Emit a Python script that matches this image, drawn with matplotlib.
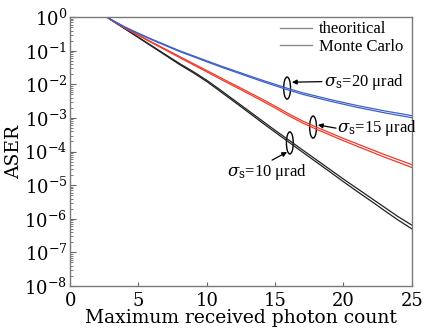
import matplotlib
matplotlib.use("Agg")
import matplotlib.pyplot as plt
from matplotlib.lines import Line2D
from matplotlib.patches import Ellipse
from matplotlib.ticker import LogLocator, NullFormatter

plt.rcParams["font.family"] = ["DejaVu Serif"]
plt.rcParams["mathtext.fontset"] = "dejavuserif"
SMALL = ["Liberation Serif", "DejaVu Serif"]

# photon count (x) and ASER
photons = [2.7, 3, 4, 5, 6, 7, 8, 9, 10, 11, 12, 13, 14, 15, 16, 17, 18, 19, 20, 21, 22, 23, 24, 25]

aser_10_theory = [1.0, 0.83, 0.457, 0.251, 0.138, 0.0759, 0.0417, 0.0240, 0.0132, 6.76e-3, 3.39e-3,
                  1.70e-3, 8.51e-4, 4.27e-4, 2.19e-4, 1.12e-4, 5.75e-5, 2.95e-5, 1.51e-5, 7.94e-6,
                  4.17e-6, 2.19e-6, 1.15e-6, 6.46e-7]
aser_10_mc = [1.0, 0.82, 0.45, 0.245, 0.133, 0.072, 0.039, 0.0222, 0.0121, 6.1e-3, 3.05e-3,
              1.52e-3, 7.5e-4, 3.75e-4, 1.9e-4, 9.6e-5, 4.9e-5, 2.5e-5, 1.26e-5, 6.5e-6,
              3.4e-6, 1.75e-6, 9.1e-7, 5.0e-7]

aser_15_theory = [1.0, 0.832, 0.479, 0.295, 0.178, 0.110, 0.0676, 0.0417, 0.0257, 0.0158, 9.77e-3,
                  6.03e-3, 3.72e-3, 2.24e-3, 1.32e-3, 8.13e-4, 5.37e-4, 3.63e-4, 2.45e-4, 1.70e-4,
                  1.17e-4, 8.13e-5, 5.75e-5, 4.07e-5]
aser_15_mc = [1.0, 0.82, 0.47, 0.285, 0.171, 0.104, 0.063, 0.0385, 0.0235, 0.0143, 8.8e-3,
              5.4e-3, 3.3e-3, 1.98e-3, 1.16e-3, 7.1e-4, 4.65e-4, 3.12e-4, 2.1e-4, 1.44e-4,
              9.9e-5, 6.8e-5, 4.8e-5, 3.35e-5]

aser_20_theory = [1.0, 0.851, 0.513, 0.331, 0.219, 0.148, 0.100, 0.0708, 0.0501, 0.0355, 0.0257,
                  0.0186, 0.0135, 0.0100, 7.41e-3, 5.62e-3, 4.47e-3, 3.55e-3, 2.88e-3, 2.34e-3,
                  1.95e-3, 1.62e-3, 1.38e-3, 1.17e-3]
aser_20_mc = [1.0, 0.84, 0.50, 0.32, 0.21, 0.141, 0.095, 0.067, 0.047, 0.0332, 0.0239,
              0.0172, 0.0124, 9.1e-3, 6.7e-3, 5.05e-3, 4.0e-3, 3.17e-3, 2.56e-3, 2.07e-3,
              1.72e-3, 1.42e-3, 1.2e-3, 1.02e-3]

legend_labels = ["theoritical", "Monte Carlo"]

fig = plt.figure(figsize=(4.25, 3.36), dpi=100)
ax = fig.add_axes([0.165, 0.149, 0.804, 0.800])

blue = "#3d5fc8"
red = "#f03a2a"
for y, c in [(aser_10_theory, "#222222"), (aser_10_mc, "#222222"),
             (aser_15_theory, red), (aser_15_mc, red),
             (aser_20_theory, blue), (aser_20_mc, blue)]:
    ax.plot(photons, y, color=c, lw=0.9)

ax.set_yscale("log")
ax.set_xlim(0, 25)
ax.set_ylim(1e-8, 1)
ax.set_xticks([0, 5, 10, 15, 20, 25])
ax.yaxis.set_major_locator(LogLocator(base=10, numticks=20))
ax.yaxis.set_minor_locator(LogLocator(base=10, subs=range(2, 10), numticks=20))
ax.yaxis.set_minor_formatter(NullFormatter())
ax.tick_params(axis="both", which="both", direction="in", colors="#666666", labelcolor="black",
               labelsize=13, top=False, right=False)
ax.tick_params(axis="y", which="major", length=4, pad=2)
ax.tick_params(axis="y", which="minor", length=2)
ax.tick_params(axis="x", length=3, pad=4.5)
for s in ax.spines.values():
    s.set_color("#7a7a7a")
    s.set_linewidth(1.0)

ax.set_xlabel("Maximum received photon count", fontsize=13.5, labelpad=-1)
ax.set_ylabel("ASER", fontsize=13.5, labelpad=1)

handles = [Line2D([], [], color="#8a8a8a", lw=1.0) for _ in legend_labels]
ax.legend(handles, legend_labels, loc="upper right", frameon=False,
          prop={"family": SMALL, "size": 12},
          handlelength=1.9, handletextpad=0.45, labelspacing=0.1,
          borderaxespad=0.1, bbox_to_anchor=(1.0, 1.015))

# ellipses marking each pair of curves (axes coordinates)
for cx, cy in [(0.635, 0.736), (0.711, 0.591), (0.643, 0.532)]:
    ax.add_patch(Ellipse((cx, cy), 0.02, 0.082, transform=ax.transAxes,
                         fill=False, ec="black", lw=1.0))

arrow = dict(arrowstyle="-|>", color="black", lw=0.9, mutation_scale=7, shrinkA=0, shrinkB=0)
labels = [
    (r"$\sigma_{\rm s}$=20 μrad", (0.743, 0.758), (0.737, 0.760), (0.649, 0.758)),
    (r"$\sigma_{\rm s}$=15 μrad", (0.781, 0.587), (0.778, 0.587), (0.725, 0.599)),
    (r"$\sigma_{\rm s}$=10 μrad", (0.459, 0.424), (0.591, 0.468), (0.635, 0.498)),
]
for txt, pos, a0, a1 in labels:
    ax.text(pos[0], pos[1], txt, transform=ax.transAxes, fontsize=12,
            family=SMALL, va="center", ha="left")
    ax.annotate("", xy=a1, xytext=a0, xycoords="axes fraction",
                textcoords="axes fraction", arrowprops=arrow)

fig.savefig("out.png", dpi=100)
